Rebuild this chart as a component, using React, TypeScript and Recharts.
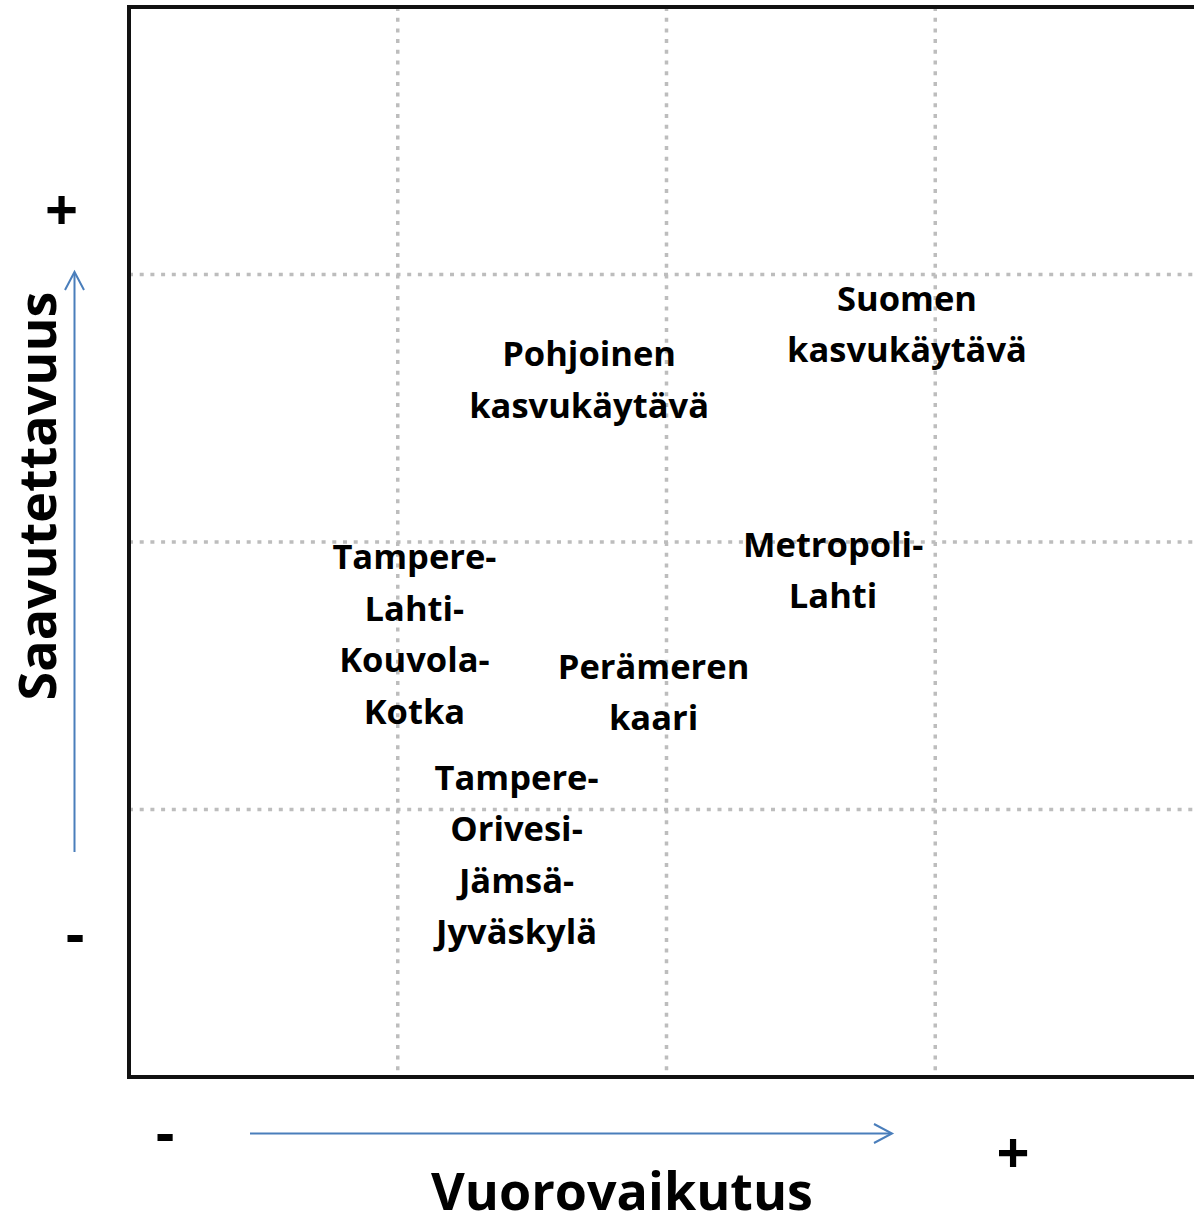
import React from 'react';
import { ScatterChart, Scatter, XAxis, YAxis, CartesianGrid, ReferenceLine } from 'recharts';

// region labels, one entry per line of text
const regionNames: string[][] = [
  ['Suomen', 'kasvukäytävä'],
  ['Pohjoinen', 'kasvukäytävä'],
  ['Metropoli-', 'Lahti'],
  ['Tampere-', 'Lahti-', 'Kouvola-', 'Kotka'],
  ['Perämeren', 'kaari'],
  ['Tampere-', 'Orivesi-', 'Jämsä-', 'Jyväskylä'],
];
// x = Vuorovaikutus, y = Saavutettavuus (0..4 grid units)
const interaction = [2.895, 1.712, 2.62, 1.062, 1.952, 1.442];
const accessibility = [2.815, 2.607, 1.895, 1.656, 1.439, 0.832];
const gridTicks = [0, 1, 2, 3, 4];

const xTitle = 'Vuorovaikutus';
const yTitle = 'Saavutettavuus';

const FONT = '"Open Sans", sans-serif';
const ARROW = '#4a7ebb';

const data = regionNames.map((lines, i) => ({
  x: interaction[i],
  y: accessibility[i],
  lines,
}));

const RegionLabel = (props: any) => {
  const { cx, cy, payload } = props;
  if (cx == null || cy == null) return null;
  const lines: string[] = payload.lines;
  const lh = 51.5;
  return (
    <text
      textAnchor="middle"
      fontFamily={FONT}
      fontWeight={700}
      fontSize={34.5}
      fill="#000"
    >
      {lines.map((l, i) => (
        <tspan key={i} x={cx} y={cy + (i - (lines.length - 1) / 2) * lh + 12.5}>
          {l}
        </tspan>
      ))}
    </text>
  );
};

export default function App() {
  return (
    <div style={{ position: 'absolute', left: 0, top: 0, width: 1194, height: 1217, overflow: 'hidden', background: '#fff' }}>
      <ScatterChart width={1210} height={1217} margin={{ top: 7, right: 6, bottom: 140, left: 129 }}>
        <CartesianGrid
          stroke="#bdbdbd"
          strokeWidth={3.5}
          strokeDasharray="4 6.7"
          horizontalValues={gridTicks}
          verticalValues={gridTicks}
        />
        <XAxis type="number" dataKey="x" domain={[0, 4]} ticks={gridTicks} hide />
        <YAxis type="number" dataKey="y" domain={[0, 4]} ticks={gridTicks} hide />
        <ReferenceLine x={0} stroke="#111" strokeWidth={4} strokeLinecap="square" />
        <ReferenceLine x={4} stroke="#111" strokeWidth={4} strokeLinecap="square" />
        <ReferenceLine y={0} stroke="#111" strokeWidth={4} strokeLinecap="square" />
        <ReferenceLine y={4} stroke="#111" strokeWidth={4} strokeLinecap="square" />
        <Scatter data={data} shape={(p: any) => <RegionLabel {...p} />} isAnimationActive={false} />
      </ScatterChart>

      <svg width={1194} height={1217} style={{ position: 'absolute', left: 0, top: 0, pointerEvents: 'none' }}>
        {/* vertical arrow */}
        <line x1={74.5} y1={852} x2={74.5} y2={273} stroke={ARROW} strokeWidth={2} />
        <polyline points="65,290 74.5,272 84,290" fill="none" stroke={ARROW} strokeWidth={2} />
        {/* horizontal arrow */}
        <line x1={250} y1={1133.5} x2={891} y2={1133.5} stroke={ARROW} strokeWidth={2} />
        <polyline points="874,1124 892,1133.5 874,1143" fill="none" stroke={ARROW} strokeWidth={2} />

        <g fontFamily={FONT} fontWeight={700} fill="#000" textAnchor="middle">
          <text x={61.5} y={230} fontSize={58}>+</text>
          <text x={75} y={954} fontSize={58}>-</text>
          <text x={165} y={1153} fontSize={58}>-</text>
          <text x={1013} y={1172.5} fontSize={58}>+</text>
          <text x={622} y={1210} fontSize={52}>{xTitle}</text>
          <text x={56} y={496} fontSize={52} transform="rotate(-90 56 496)">{yTitle}</text>
        </g>
      </svg>
    </div>
  );
}
